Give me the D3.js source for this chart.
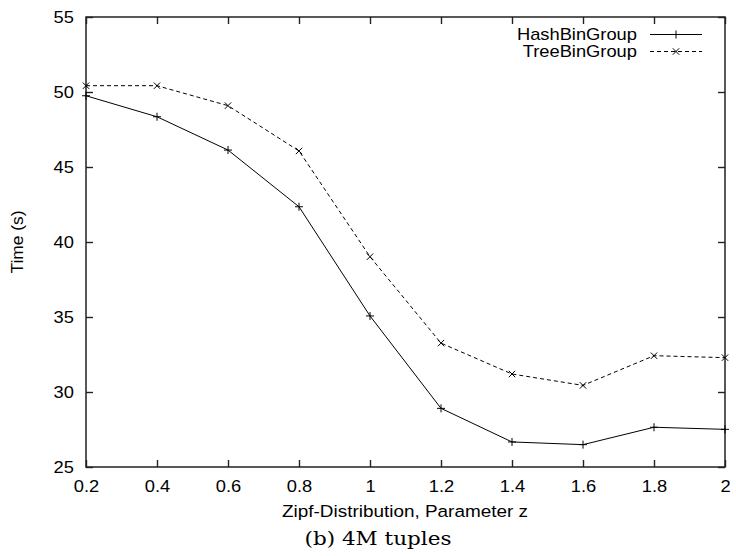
<!DOCTYPE html>
<html>
<head>
<meta charset="UTF-8">
<title>Zipf 4M tuples</title>
<script src="https://d3js.org/d3.v7.min.js"></script>
<style>
    body { margin: 0; background: #fff; }
    text { font-family: "Liberation Sans", Arial, sans-serif; fill: #000; }
    .wide { transform-box: fill-box; transform: scaleX(1.09); }
    .wide.mid { transform-origin: center; }
    .wide.end { transform-origin: right; }
</style>
</head>
<body>
<script>
    // zipf parameter values and measured times (s)
    const zipf = [0.2, 0.4, 0.6, 0.8, 1.0, 1.2, 1.4, 1.6, 1.8, 2.0];
    const hashBin = [49.75, 48.35, 46.13, 42.35, 35.07, 28.91, 26.67, 26.49, 27.65, 27.51];
    const treeBin = [50.42, 50.42, 49.09, 46.07, 39.02, 33.26, 31.2, 30.44, 32.42, 32.29];
    const xTicks = [0.2, 0.4, 0.6, 0.8, 1, 1.2, 1.4, 1.6, 1.8, 2];
    const yTicks = [25, 30, 35, 40, 45, 50, 55];

    const width = 736, height = 556;
    const mLeft = 86, mRight = 725, mTop = 17, mBottom = 467;
    const fs = "16.8px";

    const x = d3.scaleLinear().domain([0.2, 2]).range([mLeft, mRight]);
    const y = d3.scaleLinear().domain([25, 55]).range([mBottom, mTop]);

    const svg = d3.select("body").append("svg")
        .attr("width", width).attr("height", height);

    const tickLen = 7;

    // axes with inward ticks (bottom/left labelled, top/right mirrored)
    const xb = svg.append("g").attr("transform", `translate(0,${mBottom})`)
        .call(d3.axisBottom(x).tickValues(xTicks).tickSize(-tickLen).tickPadding(13)
            .tickFormat(d3.format("~g")));
    const xt = svg.append("g").attr("transform", `translate(0,${mTop})`)
        .call(d3.axisTop(x).tickValues(xTicks).tickSize(-tickLen).tickFormat(""));
    const yl = svg.append("g").attr("transform", `translate(${mLeft},0)`)
        .call(d3.axisLeft(y).tickValues(yTicks).tickSize(-tickLen).tickPadding(12));
    const yr = svg.append("g").attr("transform", `translate(${mRight},0)`)
        .call(d3.axisRight(y).tickValues(yTicks).tickSize(-tickLen).tickFormat(""));

    [xb, xt, yl, yr].forEach(g => {
        g.select(".domain").remove();
        g.selectAll(".tick line").attr("stroke", "#222").attr("stroke-width", 1.4);
        g.selectAll(".tick text").style("font-size", fs)
            .style("font-family", "'Liberation Sans', Arial, sans-serif");
    });
    xb.selectAll(".tick text").attr("class", "wide mid");
    yl.selectAll(".tick text").attr("class", "wide end");

    svg.append("rect")
        .attr("x", mLeft).attr("y", mTop)
        .attr("width", mRight - mLeft).attr("height", mBottom - mTop)
        .attr("fill", "none").attr("stroke", "#222").attr("stroke-width", 1.5);

    const line = d3.line().x(d => x(d[0])).y(d => y(d[1]));
    const hashPts = zipf.map((z, i) => [z, hashBin[i]]);
    const treePts = zipf.map((z, i) => [z, treeBin[i]]);

    svg.append("path").datum(hashPts).attr("d", line)
        .attr("fill", "none").attr("stroke", "#000").attr("stroke-width", 1);
    svg.append("path").datum(treePts).attr("d", line)
        .attr("fill", "none").attr("stroke", "#000").attr("stroke-width", 1)
        .attr("stroke-dasharray", "4,3");

    const m = 4;
    function plus(g, px, py) {
        g.append("path").attr("d", `M${px - m},${py}H${px + m}M${px},${py - m}V${py + m}`)
            .attr("stroke", "#000").attr("stroke-width", 1);
    }
    function cross(g, px, py) {
        const k = m * 0.8;
        g.append("path").attr("d", `M${px - k},${py - k}L${px + k},${py + k}M${px - k},${py + k}L${px + k},${py - k}`)
            .attr("stroke", "#000").attr("stroke-width", 1);
    }
    const marks = svg.append("g");
    hashPts.forEach(d => plus(marks, x(d[0]), y(d[1])));
    treePts.forEach(d => cross(marks, x(d[0]), y(d[1])));

    // legend
    const leg = svg.append("g");
    const rows = [
        { name: "HashBinGroup", dash: null, mk: plus, yy: 34.5 },
        { name: "TreeBinGroup", dash: "4,3", mk: cross, yy: 51.5 }
    ];
    rows.forEach(r => {
        leg.append("text").attr("class", "wide end").attr("x", 637).attr("y", r.yy + 6)
            .attr("text-anchor", "end").style("font-size", fs).text(r.name);
        leg.append("line").attr("x1", 650).attr("x2", 702).attr("y1", r.yy).attr("y2", r.yy)
            .attr("stroke", "#000").attr("stroke-width", 1)
            .attr("stroke-dasharray", r.dash);
        r.mk(leg, 676, r.yy);
    });

    // labels
    svg.append("text").attr("x", 405).attr("y", 517).attr("text-anchor", "middle")
        .attr("textLength", 246).attr("lengthAdjust", "spacingAndGlyphs")
        .style("font-size", fs).text("Zipf-Distribution, Parameter z");
    svg.append("text").attr("transform", "translate(23,242) rotate(-90)")
        .attr("text-anchor", "middle").attr("textLength", 63).attr("lengthAdjust", "spacingAndGlyphs")
        .style("font-size", fs).text("Time (s)");
    svg.append("text").attr("x", 378).attr("y", 545).attr("text-anchor", "middle")
        .attr("textLength", 147).attr("lengthAdjust", "spacingAndGlyphs")
        .style("font-family", "'DejaVu Serif', 'Liberation Serif', serif")
        .style("font-size", "18.5px").text("(b) 4M tuples");
</script>
</body>
</html>
